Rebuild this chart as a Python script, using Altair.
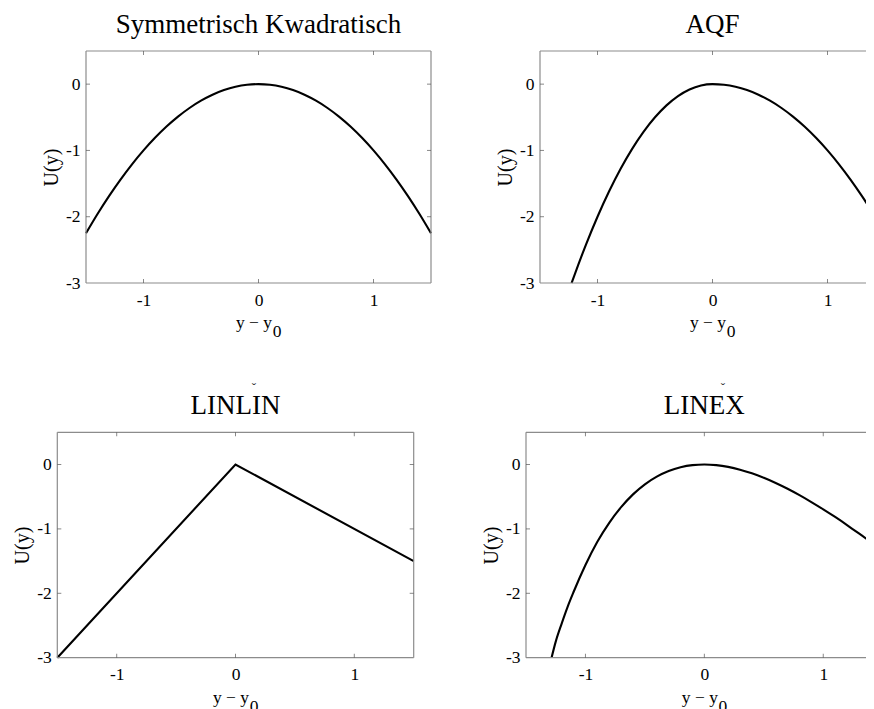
import altair as alt
import pandas as pd

FONT = "Liberation Serif"

# ---- data ----
TITLES = ["Symmetrisch Kwadratisch", "AQF", "LINLIN", "LINEX"]
X_LABEL = "y \u2212 y"
X_LABEL_SUB = "0"
Y_LABEL = "U(y)"
X_TICKS = [-1, 0, 1]
Y_TICKS = [0, -1, -2, -3]
X_DOMAIN = [-1.5, 1.5]
Y_DOMAIN = [-3, 0.5]

X_SYM = [-1.5, -1.4, -1.3, -1.2, -1.1, -1.0, -0.9, -0.8, -0.7, -0.6, -0.5, -0.4, -0.3, -0.2, -0.1, 0.0,
         0.1, 0.2, 0.3, 0.4, 0.5, 0.6, 0.7, 0.8, 0.9, 1.0, 1.1, 1.2, 1.3, 1.4, 1.5]
Y_SYM = [-2.25, -1.96, -1.69, -1.44, -1.21, -1.0, -0.81, -0.64, -0.49, -0.36, -0.25, -0.16, -0.09, -0.04, -0.01, 0.0,
         -0.01, -0.04, -0.09, -0.16, -0.25, -0.36, -0.49, -0.64, -0.81, -1.0, -1.21, -1.44, -1.69, -1.96, -2.25]

X_AQF = [-1.225, -1.2, -1.1, -1.0, -0.9, -0.8, -0.7, -0.6, -0.5, -0.4, -0.3, -0.2, -0.1, 0.0,
         0.1, 0.2, 0.3, 0.4, 0.5, 0.6, 0.7, 0.8, 0.9, 1.0, 1.1, 1.2, 1.3, 1.4, 1.5]
Y_AQF = [-3.0, -2.88, -2.42, -2.0, -1.62, -1.28, -0.98, -0.72, -0.5, -0.32, -0.18, -0.08, -0.02, 0.0,
         -0.01, -0.04, -0.09, -0.16, -0.25, -0.36, -0.49, -0.64, -0.81, -1.0, -1.21, -1.44, -1.69, -1.96, -2.25]

X_LINLIN = [-1.5, 0.0, 1.5]
Y_LINLIN = [-3.0, 0.0, -1.5]

X_LINEX = [-1.285, -1.25, -1.2, -1.15, -1.1, -1.0, -0.9, -0.8, -0.7, -0.6, -0.5, -0.4, -0.3, -0.2, -0.1, 0.0,
           0.1, 0.2, 0.3, 0.4, 0.5, 0.6, 0.7, 0.8, 0.9, 1.0, 1.1, 1.2, 1.3, 1.4, 1.5]
Y_LINEX = [-3.0, -2.75, -2.47, -2.21, -1.98, -1.56, -1.20, -0.905, -0.662, -0.464, -0.308, -0.189, -0.102,
           -0.043, -0.010, 0.0, -0.010, -0.037, -0.080, -0.137, -0.207, -0.287, -0.377, -0.476, -0.583, -0.696,
           -0.815, -0.940, -1.070, -1.203, -1.341]

# ---- layout (pixels inside the view) ----
VIEW_W, VIEW_H = 858, 701
PANELS = [
    # x range (left, right), y range (bottom, top)
    ((78, 423), (275, 43)),
    ((532, 877), (275, 43)),
    ((49.3, 405.7), (649.7, 424.3)),
    ((518, 874.7), (649.7, 424.3)),
]

ONE = pd.DataFrame({"k": [0]})
BOX = "#8c8c8c"
TICK = "#555555"
LBL = "'' + datum.value"
LBL_SIZE = 17.5


def panel(xs, ys, title, geom, interp, caron=False):
    (xl, xr), (yb, yt) = geom
    df = pd.DataFrame({"x": xs, "u": ys})
    xsc = alt.Scale(domain=X_DOMAIN, range=[xl, xr], nice=False, zero=False)
    ysc = alt.Scale(domain=Y_DOMAIN, range=[yb, yt], nice=False, zero=False)
    xax = alt.Axis(orient="bottom", offset=yb - VIEW_H, values=X_TICKS, labelExpr=LBL, ticks=False,
                   tickSize=0, domain=False, grid=False, labelPadding=8, title=None, labelFont=FONT,
                   labelFontSize=LBL_SIZE, labelColor="black", labelFlush=False)
    yax = alt.Axis(orient="left", offset=-xl, values=Y_TICKS, labelExpr=LBL, ticks=False, tickSize=0,
                   domain=False, grid=False, labelPadding=6, title=Y_LABEL, titleX=-35,
                   titleY=(yb + yt) / 2, titleAngle=270, titleAlign="center", titleBaseline="middle",
                   titleFont=FONT, titleFontSize=20, titleFontWeight="normal", titleColor="black",
                   labelFont=FONT, labelFontSize=LBL_SIZE, labelColor="black", labelFlush=False)

    def X(v):
        return alt.XDatum(v, scale=xsc, axis=xax)

    def Y(v):
        return alt.YDatum(v, scale=ysc, axis=yax)

    line = alt.Chart(df).mark_line(color="black", strokeWidth=2.1, interpolate=interp).encode(
        x=alt.X("x:Q", scale=xsc, axis=xax),
        y=alt.Y("u:Q", scale=ysc, axis=yax),
    )
    layers = [line]
    rule = dict(color=BOX, strokeWidth=1.2)
    # frame
    layers.append(alt.Chart(ONE).mark_rule(**rule).encode(x=X(X_DOMAIN[0]), x2=alt.X2Datum(X_DOMAIN[1]), y=Y(Y_DOMAIN[1])))
    layers.append(alt.Chart(ONE).mark_rule(**rule).encode(x=X(X_DOMAIN[0]), x2=alt.X2Datum(X_DOMAIN[1]), y=Y(Y_DOMAIN[0])))
    layers.append(alt.Chart(ONE).mark_rule(**rule).encode(x=X(X_DOMAIN[0]), y=Y(Y_DOMAIN[0]), y2=alt.Y2Datum(Y_DOMAIN[1])))
    layers.append(alt.Chart(ONE).mark_rule(**rule).encode(x=X(X_DOMAIN[1]), y=Y(Y_DOMAIN[0]), y2=alt.Y2Datum(Y_DOMAIN[1])))
    # inward ticks
    xt = pd.DataFrame({"x": X_TICKS})
    yt_df = pd.DataFrame({"u": [v for v in Y_TICKS if v > Y_DOMAIN[0]]})
    tk = dict(color=TICK, thickness=1, size=4)
    layers.append(alt.Chart(xt).mark_tick(orient="vertical", yOffset=2, **tk).encode(
        x=alt.X("x:Q", scale=xsc, axis=xax), y=Y(Y_DOMAIN[1])))
    layers.append(alt.Chart(xt).mark_tick(orient="vertical", yOffset=-2, **tk).encode(
        x=alt.X("x:Q", scale=xsc, axis=xax), y=Y(Y_DOMAIN[0])))
    layers.append(alt.Chart(yt_df).mark_tick(orient="horizontal", xOffset=2, **tk).encode(
        y=alt.Y("u:Q", scale=ysc, axis=yax), x=X(X_DOMAIN[0])))
    layers.append(alt.Chart(yt_df).mark_tick(orient="horizontal", xOffset=-2, **tk).encode(
        y=alt.Y("u:Q", scale=ysc, axis=yax), x=X(X_DOMAIN[1])))
    # texts
    layers.append(alt.Chart(ONE).mark_text(text=title, font=FONT, fontSize=27, align="center",
                                           baseline="alphabetic", color="black", dy=-18).encode(
        x=X(0), y=Y(Y_DOMAIN[1])))
    layers.append(alt.Chart(ONE).mark_text(text=X_LABEL, font=FONT, fontSize=17.5, align="center",
                                           baseline="alphabetic", color="black", dx=-4.5, dy=45).encode(
        x=X(0), y=Y(Y_DOMAIN[0])))
    layers.append(alt.Chart(ONE).mark_text(text=X_LABEL_SUB, font=FONT, fontSize=17.5, align="center",
                                           baseline="alphabetic", color="black", dx=18.5, dy=54).encode(
        x=X(0), y=Y(Y_DOMAIN[0])))
    if caron:
        layers.append(alt.Chart(ONE).mark_text(text="\u02c7", font=FONT, fontSize=13, align="center",
                                               baseline="alphabetic", color="#333333", dx=18.5, dy=-40).encode(
            x=X(0), y=Y(Y_DOMAIN[1])))
    return alt.layer(*layers)


p1 = panel(X_SYM, Y_SYM, TITLES[0], PANELS[0], "monotone")
p2 = panel(X_AQF, Y_AQF, TITLES[1], PANELS[1], "monotone")
p3 = panel(X_LINLIN, Y_LINLIN, TITLES[2], PANELS[2], "linear", caron=True)
p4 = panel(X_LINEX, Y_LINEX, TITLES[3], PANELS[3], "monotone", caron=True)

chart = alt.layer(p1, p2, p3, p4).resolve_scale(
    x="independent", y="independent"
).resolve_axis(
    x="independent", y="independent"
).properties(
    width=VIEW_W, height=VIEW_H, padding=0, background="white",
    autosize=alt.AutoSizeParams(type="none")
).configure_view(stroke=None)

chart.save("out.html", embed_options={"renderer": "svg", "actions": False})
